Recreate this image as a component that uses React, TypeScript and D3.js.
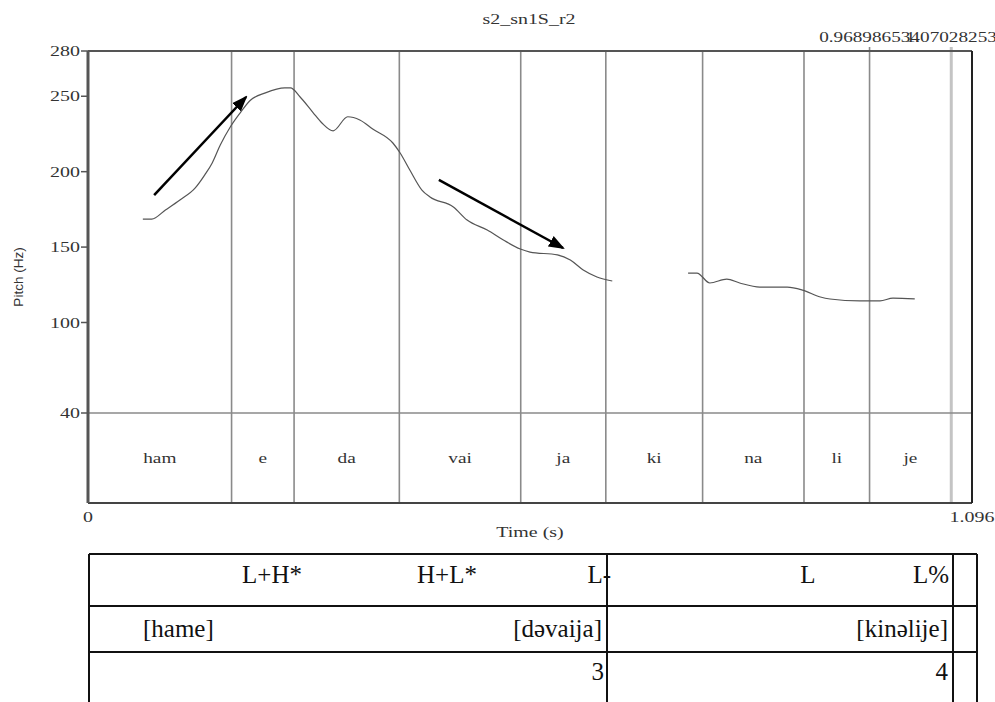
import React from "react";
import * as d3 from "d3";

// pitch track, two voiced stretches (time in s, pitch in Hz)
const seg1Time = [0.068, 0.079, 0.096, 0.114, 0.133, 0.145, 0.154, 0.164, 0.176, 0.189, 0.201, 0.22, 0.244, 0.251, 0.263, 0.279, 0.29, 0.304, 0.322, 0.337, 0.353, 0.378, 0.387, 0.399, 0.414, 0.424, 0.453, 0.47, 0.495, 0.515, 0.536, 0.548, 0.582, 0.598, 0.614, 0.631, 0.65];
const seg1Pitch = [168.6, 168.6, 174.6, 181.2, 189.2, 198, 205.8, 217.7, 229.3, 239.2, 247.2, 252.2, 255.5, 255.5, 249.5, 239.2, 232.3, 227.1, 236.4, 234.3, 228.3, 219, 212.4, 201.1, 187.8, 183.2, 176.6, 167.9, 161.3, 154.7, 148.7, 146.7, 144.8, 141.4, 134.8, 130.2, 127.5];
const seg2Time = [0.744, 0.755, 0.771, 0.792, 0.808, 0.833, 0.867, 0.886, 0.908, 0.92, 0.957, 0.982, 0.998, 1.025];
const seg2Pitch = [132.8, 132.8, 126.2, 128.8, 126.2, 123.5, 123.5, 121.5, 116.9, 115.6, 114.3, 114.3, 116.2, 115.6];

// syllable tier
const boundaries = [0.178, 0.2555, 0.386, 0.5365, 0.642, 0.762, 0.8877, 0.968986534, 1.07028253];
const syllables = ["ham", "e", "da", "vai", "ja", "ki", "na", "li", "je"];
const topLabels = ["0.968986534", "1.07028253"];

const yTicks = [280, 250, 200, 150, 100, 40];
const xDomain = [0, 1.096];
const xTickLabels = ["0", "1.096"];

// arrows [t0, hz0, t1, hz1]
const arrows = [
  [0.082, 184.5, 0.196, 249.5],
  [0.435, 194.5, 0.589, 149.4],
];

// table under the chart
const toneRow = ["L+H*", "H+L*", "L-", "L", "L%"];
const wordRow = ["[hame]", "[dəvaija]", "[kinəlije]"];
const numberRow = ["3", "4"];

const W = 995;
const H = 702;
const left = 88;
const right = 972;
const top = 51;
const bottom = 503;
const tierTop = 413;
const SX = 1.33;
const serif = "'Liberation Serif', 'Times New Roman', serif";

const T = ({ x, y, anchor = "middle", size = 15, sx = SX, children, fill = "#333" }: any) => (
  <text
    transform={`translate(${x},${y}) scale(${sx},1)`}
    textAnchor={anchor}
    fontFamily={serif}
    fontSize={size}
    fill={fill}
  >
    {children}
  </text>
);

export default function App() {
  const x = d3.scaleLinear().domain(xDomain).range([left, right]);
  const y = d3.scaleLinear().domain([40, 280]).range([tierTop, top]);

  const line = d3
    .line<number>()
    .curve(d3.curveMonotoneX);
  const path1 = line.x((t) => x(t)).y((_, i) => y(seg1Pitch[i]))(seg1Time);
  const path2 = line.x((t) => x(t)).y((_, i) => y(seg2Pitch[i]))(seg2Time);

  const edges = [0, ...boundaries];
  const labeled = boundaries.slice(-2);

  // table layout
  const tl = 89, tr = 977, c1 = 607, c2 = 953;
  const r0 = 554, r1 = 606, r2 = 652;
  const tfs = 25;

  return (
    <svg width={W} height={H} style={{ position: "absolute", left: 0, top: 0, background: "#fff" }}>
      <defs>
        <marker id="head" viewBox="0 0 16 12" markerUnits="userSpaceOnUse" markerWidth={16} markerHeight={12} refX={14} refY={6} orient="auto">
          <path d="M0,0 L16,6 L0,12 z" fill="#000" />
        </marker>
      </defs>

      {/* title */}
      <T x={529} y={24}>s2_sn1S_r2</T>

      {/* boundary lines */}
      {boundaries.map((b, i) => (
        <line
          key={"b" + i}
          x1={x(b)} x2={x(b)}
          y1={labeled.includes(b) ? top - 4 : top}
          y2={bottom}
          stroke={i === boundaries.length - 1 ? "#c4c4c4" : "#8a8a8a"}
          strokeWidth={i === boundaries.length - 1 ? 3 : 1.6}
        />
      ))}
      {labeled.map((b, i) => (
        <T key={"tl" + i} x={x(b)} y={42} sx={1.28}>{topLabels[i]}</T>
      ))}

      {/* tier separator */}
      <line x1={left} x2={right} y1={tierTop} y2={tierTop} stroke="#8a8a8a" strokeWidth={1.6} />

      {/* frame */}
      <line x1={left} x2={right} y1={top} y2={top} stroke="#555" strokeWidth={2} />
      <line x1={left} x2={right} y1={bottom} y2={bottom} stroke="#444" strokeWidth={2} />
      <line x1={right} x2={right} y1={top} y2={bottom} stroke="#222" strokeWidth={2} />
      <line x1={left} x2={left} y1={top} y2={bottom} stroke="#555" strokeWidth={3} />

      {/* y ticks */}
      {yTicks.map((v) => (
        <g key={"y" + v}>
          <line x1={left - 7} x2={left} y1={y(v)} y2={y(v)} stroke="#555" strokeWidth={1.5} />
          <T x={left - 8} y={y(v) + 5} anchor="end">{v}</T>
        </g>
      ))}
      <text
        transform={`translate(23,277) rotate(-90)`}
        textAnchor="middle"
        fontFamily="'Liberation Sans', Arial, sans-serif"
        fontSize={13.5}
        fill="#333"
      >
        Pitch (Hz)
      </text>

      {/* x labels */}
      {xDomain.map((v, i) => (
        <T key={"x" + i} x={x(v)} y={522}>{xTickLabels[i]}</T>
      ))}
      <T x={(left + right) / 2} y={537}>Time (s)</T>

      {/* syllables */}
      {syllables.map((s, i) => (
        <T key={"s" + i} x={(x(edges[i]) + x(edges[i + 1])) / 2} y={463} size={14.5}>{s}</T>
      ))}

      {/* pitch */}
      <path d={path1 || ""} fill="none" stroke="#555" strokeWidth={1.2} />
      <path d={path2 || ""} fill="none" stroke="#555" strokeWidth={1.2} />

      {/* arrows */}
      {arrows.map((a, i) => (
        <line key={"a" + i} x1={x(a[0])} y1={y(a[1])} x2={x(a[2])} y2={y(a[3])} stroke="#000" strokeWidth={2.5} markerEnd="url(#head)" />
      ))}

      {/* table */}
      <g fontFamily={serif} fontSize={tfs} fill="#111">
        <text x={272} y={583} textAnchor="middle">{toneRow[0]}</text>
        <text x={447} y={583} textAnchor="middle">{toneRow[1]}</text>
        <text x={611} y={583} textAnchor="end">{toneRow[2]}</text>
        <text x={808} y={583} textAnchor="middle">{toneRow[3]}</text>
        <text x={949} y={583} textAnchor="end">{toneRow[4]}</text>

        <text x={143} y={637}>{wordRow[0]}</text>
        <text x={602} y={637} textAnchor="end">{wordRow[1]}</text>
        <text x={948} y={637} textAnchor="end">{wordRow[2]}</text>

        <text x={604} y={680} textAnchor="end">{numberRow[0]}</text>
        <text x={948} y={680} textAnchor="end">{numberRow[1]}</text>
      </g>
      <g stroke="#111" strokeWidth={2}>
        <line x1={tl} x2={tr} y1={r0} y2={r0} />
        <line x1={tl} x2={tr} y1={r1} y2={r1} />
        <line x1={tl} x2={tr} y1={r2} y2={r2} />
        <line x1={tl} x2={tl} y1={r0} y2={H} />
        <line x1={c1} x2={c1} y1={r0} y2={H} />
        <line x1={c2} x2={c2} y1={r0} y2={H} />
        <line x1={tr} x2={tr} y1={r0} y2={H} />
      </g>
    </svg>
  );
}
